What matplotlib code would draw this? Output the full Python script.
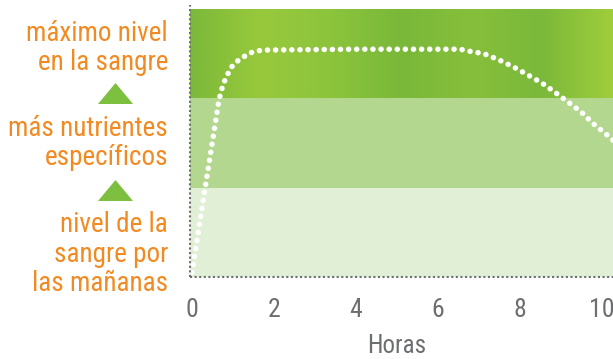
import matplotlib
matplotlib.use("Agg")
import matplotlib.pyplot as plt
import numpy as np
from matplotlib.patches import Polygon
from matplotlib.colors import LinearSegmentedColormap
from matplotlib import font_manager

# ---- data ----
hours = [0.0, 0.32, 0.66, 0.76, 0.93, 1.05, 1.22, 1.37, 1.56, 1.76, 4.0, 6.54,
         6.73, 7.12, 7.49, 7.85, 8.20, 8.54, 8.85, 9.17, 9.49, 9.78, 10.10, 10.30]
level = [0.05, 1.0, 1.99, 2.16, 2.33, 2.40, 2.45, 2.50, 2.53, 2.54, 2.55, 2.55,
         2.53, 2.50, 2.43, 2.35, 2.26, 2.17, 2.07, 1.96, 1.85, 1.72, 1.60, 1.52]
band_edges = [0, 1, 2, 3]
x_ticks = [0, 2, 4, 6, 8, 10]
x_label = "Horas"
level_labels = ["máximo nivel\nen la sangre",
                "más nutrientes\nespecíficos",
                "nivel de la\nsangre por\nlas mañanas"]

names = {f.name for f in font_manager.fontManager.ttflist}
fams = [f for f in ["Roboto Condensed", "Barlow Condensed", "Asap Condensed",
                    "Liberation Sans Narrow"] if f in names][:1] + ["DejaVu Sans"]
plt.rcParams['font.family'] = fams

W, H = 613, 359
fig = plt.figure(figsize=(W / 100, H / 100), dpi=100)
ax = fig.add_axes([190 / W, (H - 277) / H, (W - 190) / W, (277 - 9) / H])
xmin, xmax = -0.05, 10.27
ax.set_xlim(xmin, xmax)
ax.set_ylim(band_edges[0], band_edges[-1])

# bands
ax.axhspan(band_edges[0], band_edges[1], color="#e2efd7", lw=0, zorder=0)
ax.axhspan(band_edges[1], band_edges[2], color="#b4d78f", lw=0, zorder=0)
cmap = LinearSegmentedColormap.from_list(
    "g", ["#7cb93a", "#98c93c", "#8cc43c", "#7ab83a", "#86bf3b", "#7bb93a", "#9fcd3c"])
grad = np.linspace(0, 1, 256).reshape(1, -1)
ax.imshow(grad, cmap=cmap, aspect="auto",
          extent=[xmin, xmax, band_edges[2], band_edges[3]], zorder=0.5)

# curve (white dots)
ax.plot(hours, level, color="white", lw=4.0, linestyle=(0, (0.01, 1.45)),
        dash_capstyle="round", solid_capstyle="round", zorder=3, clip_on=True)

for s in ax.spines.values():
    s.set_visible(False)

# dotted axes
fig.add_artist(plt.Line2D([190 / W, 190 / W], [(H - 277) / H, (H - 5) / H],
                          transform=fig.transFigure, color="#6d6e70", lw=1.5,
                          linestyle=(0, (1, 1.2)), zorder=5))
fig.add_artist(plt.Line2D([190 / W, 1.0], [(H - 277) / H, (H - 277) / H],
                          transform=fig.transFigure, color="#6d6e70", lw=1.5,
                          linestyle=(0, (1, 1.2)), zorder=5))

ax.set_yticks([])
ax.set_xticks(x_ticks)
ax.set_xticklabels([str(t) for t in x_ticks], fontsize=18.5, color="#6d6e70")
ax.tick_params(axis="x", length=0, pad=15)

fig.text(397 / W, (H - 346) / H, x_label, ha="center", va="center",
         fontsize=18, color="#6d6e70")

orange = "#f28a22"
fs = 19.5
kw = dict(ha="right", va="center", fontsize=fs, color=orange,
          linespacing=1.12)
fig.text(168 / W, (H - 48) / H, level_labels[0], **kw)
fig.text(168 / W, (H - 143) / H, level_labels[1], **kw)
fig.text(168 / W, (H - 254) / H, level_labels[2], **kw)

for ytop, ybot in [(83, 104), (180, 201)]:
    tri = Polygon([[98 / W, (H - ybot) / H], [133 / W, (H - ybot) / H],
                   [115.5 / W, (H - ytop) / H]], closed=True,
                  transform=fig.transFigure, color="#7dbf3f", lw=0)
    fig.add_artist(tri)

fig.savefig("out.png", dpi=100)
